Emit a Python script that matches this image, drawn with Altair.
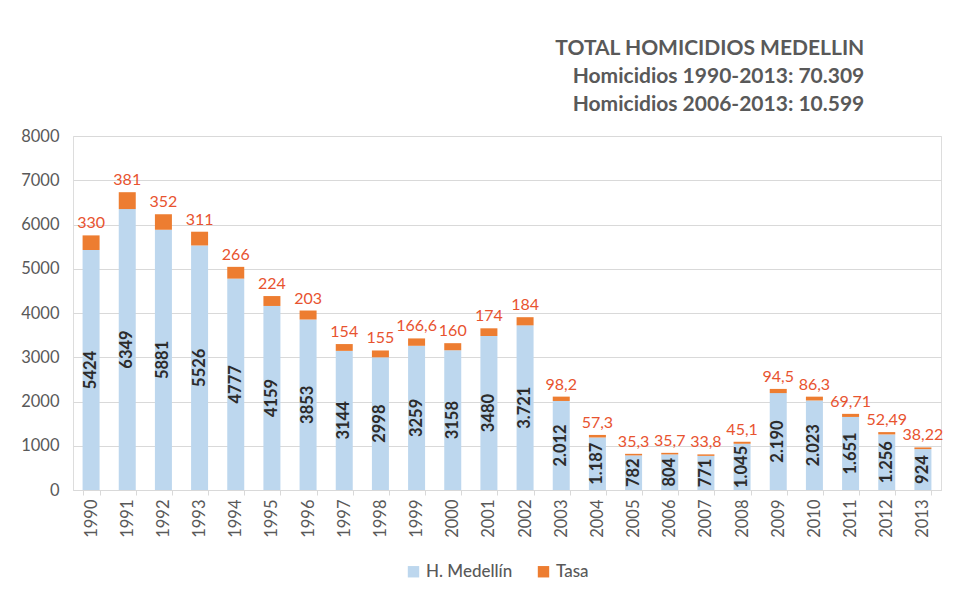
import altair as alt
import pandas as pd

years = [str(y) for y in range(1990, 2014)]
homicidios = [5424, 6349, 5881, 5526, 4777, 4159, 3853, 3144, 2998, 3259, 3158, 3480,
              3721, 2012, 1187, 782, 804, 771, 1045, 2190, 2023, 1651, 1256, 924]
h_labels = ["5424", "6349", "5881", "5526", "4777", "4159", "3853", "3144", "2998", "3259",
            "3158", "3480", "3.721", "2.012", "1.187", "782", "804", "771", "1.045", "2.190",
            "2.023", "1.651", "1.256", "924"]
tasa = [330, 381, 352, 311, 266, 224, 203, 154, 155, 166.6, 160, 174, 184, 98.2, 57.3,
        35.3, 35.7, 33.8, 45.1, 94.5, 86.3, 69.71, 52.49, 38.22]
tasa_labels = ["330", "381", "352", "311", "266", "224", "203", "154", "155", "166,6", "160",
               "174", "184", "98,2", "57,3", "35,3", "35,7", "33,8", "45,1", "94,5", "86,3",
               "69,71", "52,49", "38,22"]
series = ["H. Medellín", "Tasa"]
colors = ["#BDD7EE", "#ED7D31"]

FONT = "Lato"
GRAY = "#595959"

wide = pd.DataFrame({"year": years, "h": homicidios, "hl": h_labels,
                     "t": tasa, "tl": tasa_labels})
long = pd.concat([
    pd.DataFrame({"year": years, "serie": series[0], "valor": homicidios, "orden": 0}),
    pd.DataFrame({"year": years, "serie": series[1], "valor": tasa, "orden": 1}),
])

xenc = alt.X("year:N", title=None,
             scale=alt.Scale(paddingInner=0.53, paddingOuter=0.265),
             axis=alt.Axis(labelAngle=-90, labelFontSize=16.5, labelColor=GRAY, labelFont=FONT,
                           labelPadding=4, tickBand="extent", tickColor="#D9D9D9", tickSize=5,
                           domainColor="#D9D9D9", grid=False))

bars = alt.Chart(long).mark_bar().encode(
    x=xenc,
    y=alt.Y("valor:Q", stack="zero", title=None,
            scale=alt.Scale(domain=[0, 8000], nice=False),
            axis=alt.Axis(values=list(range(0, 8001, 1000)), format="d", labelFontSize=16.5,
                          labelColor=GRAY, labelFont=FONT, domain=False, ticks=False,
                          labelPadding=14, gridColor="#D9D9D9", gridWidth=1)),
    color=alt.Color("serie:N", scale=alt.Scale(domain=series, range=colors),
                    legend=alt.Legend(title=None, orient="none", legendX=332, legendY=427,
                                      direction="horizontal", symbolType="square",
                                      symbolSize=130, symbolStrokeWidth=0,
                                      labelFontSize=17, labelColor=GRAY, labelFont=FONT,
                                      labelFontWeight=500, columnPadding=22)),
    order=alt.Order("orden:Q", sort="ascending"),
)

hlab = alt.Chart(wide).transform_calculate(mid="datum.h / 2").mark_text(
    angle=270, fontSize=16.5, fontWeight="bold", color="#2B2B2B", font=FONT,
    align="center", baseline="middle"
).encode(x=alt.X("year:N"), y=alt.Y("mid:Q"), text="hl:N")

tlab = alt.Chart(wide).transform_calculate(top="datum.h + datum.t").mark_text(
    fontSize=16, color="#E8532F", font=FONT, align="center", baseline="bottom", dy=-4
).encode(x=alt.X("year:N"), y=alt.Y("top:Q"), text="tl:N")

chart = alt.layer(bars, hlab, tlab).properties(
    width=868, height=354,
    title=alt.TitleParams(
        ["TOTAL HOMICIDIOS MEDELLIN", "Homicidios 1990-2013: 70.309",
         "Homicidios 2006-2013: 10.599"],
        anchor="end", fontSize=21, fontWeight="bold", color=GRAY, font=FONT,
        lineHeight=28, dx=-79, offset=13),
    autosize=alt.AutoSizeParams(type="none"),
    padding={"left": 65, "top": 128, "right": 20, "bottom": 100},
).configure_view(stroke=None).configure(background="white")

chart.save("out.html", embed_options={"renderer": "svg", "actions": False})
